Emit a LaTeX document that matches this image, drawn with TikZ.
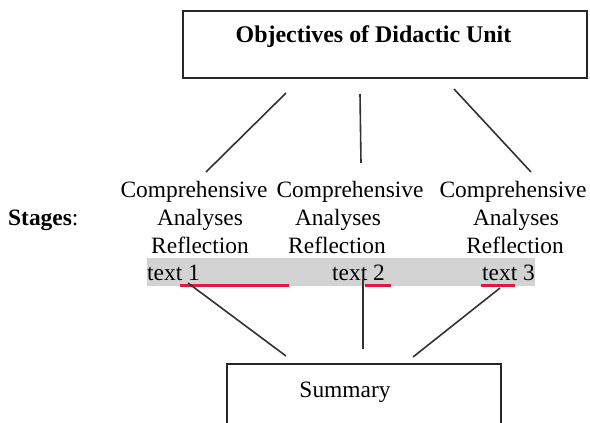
\documentclass[tikz,border=0pt]{standalone}
\usepackage{fontspec}
\setmainfont{Liberation Serif}
\definecolor{bandgray}{RGB}{211,211,211}
\definecolor{ulred}{RGB}{232,22,62}
\definecolor{linegray}{RGB}{50,50,50}
\begin{document}
\begin{tikzpicture}[x=1bp,y=-1bp,
  txt/.style={font=\fontsize{23.5}{28}\selectfont, inner sep=0pt, anchor=base},
  btxt/.style={font=\fontsize{24}{28}\selectfont\bfseries, inner sep=0pt, anchor=base},
  box/.style={draw=black!85, line width=2bp, inner sep=0pt},
  conn/.style={draw=linegray, line width=1.6bp},
  uline/.style={draw=ulred, line width=3bp}]
\useasboundingbox (0,0) rectangle (590,422);

% top box
\node[box, minimum width=404bp, minimum height=67bp] (obj) at (385,44.5) {};
\node[btxt] (title) at (373.5,42) {Objectives of Didactic Unit};

% stages label
\node[txt, anchor=base west] (stages) at (8,225) {\textbf{Stages}:};

% column 1
\node[txt] (c1a) at (194,197) {Comprehensive};
\node[txt] (c1b) at (200,225) {Analyses};
\node[txt] (c1c) at (200,253) {Reflection};
% column 2
\node[txt] (c2a) at (350,197) {Comprehensive};
\node[txt] (c2b) at (338,225) {Analyses};
\node[txt] (c2c) at (337,253) {Reflection};
% column 3
\node[txt] (c3a) at (513,197) {Comprehensive};
\node[txt] (c3b) at (516,225) {Analyses};
\node[txt] (c3c) at (515,253) {Reflection};

% gray band with texts
\node[fill=bandgray, minimum width=388bp, minimum height=28bp, inner sep=0pt] (band) at (341,272) {};
\node[txt, anchor=base west] (t1) at (147,280) {text 1};
\node[txt, anchor=base west] (t2) at (332,280) {text 2};
\node[txt, anchor=base west] (t3) at (482,280) {text 3};

% red underlines
\draw[uline] (180,285.5) -- (289,285.5);
\draw[uline] (365,285.5) -- (391,285.5);
\draw[uline] (481,285.5) -- (515,285.5);

% summary box
\node[box, minimum width=274bp, minimum height=76bp] (sumbox) at (363.5,402) {};
\node[txt] (sum) at (345,397) {Summary};

% connector end points
\coordinate (a1) at (286,93);
\coordinate (b1) at (206,172);
\coordinate (a2) at (360,94);
\coordinate (b2) at (361,163);
\coordinate (a3) at (454,89);
\coordinate (b3) at (531,172);
\coordinate (d1) at (188,283);
\coordinate (e1) at (286,356);
\coordinate (d2) at (363,279);
\coordinate (e2) at (363,349);
\coordinate (d3) at (500,288);
\coordinate (e3) at (413,357);

\draw[conn] (a1) -- (b1);
\draw[conn] (a2) -- (b2);
\draw[conn] (a3) -- (b3);
\draw[conn] (d1) -- (e1);
\draw[conn] (d2) -- (e2);
\draw[conn] (d3) -- (e3);
\end{tikzpicture}
\end{document}
